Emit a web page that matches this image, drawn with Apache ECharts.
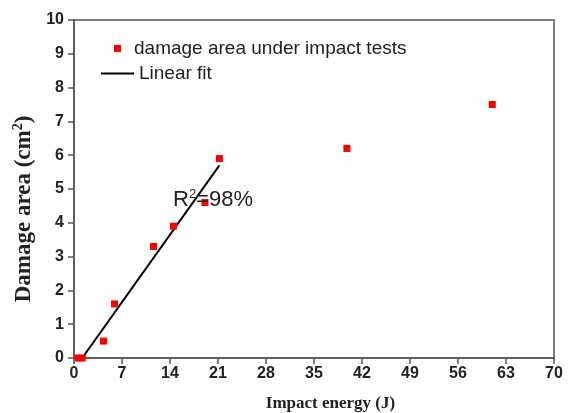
<!DOCTYPE html>
<html>
<head>
<meta charset="utf-8">
<script src="https://cdn.jsdelivr.net/npm/echarts@6/dist/echarts.min.js"></script>
<style>html,body{margin:0;padding:0;background:#fff}#c{width:568px;height:413px}</style>
</head>
<body>
<div id="c"></div>
<script>
// Measured damage area under impact tests: [impact energy (J), damage area (cm^2)]
var impactEnergy = [0.6, 1.2, 4.3, 5.9, 11.6, 14.5, 19.1, 21.2, 39.8, 61.0];
var damageArea   = [0.0, 0.0, 0.5, 1.6, 3.3, 3.9, 4.6, 5.9, 6.2, 7.5];
// Linear fit line end points
var fitEnergy = [1.2, 21.2];
var fitArea   = [0.0, 5.7];
var xTicks = {min: 0, max: 70, interval: 7};
var yTicks = {min: 0, max: 10, interval: 1};
var seriesNames = ['damage area under impact tests', 'Linear fit'];
var annotation = 'R{sup|2}=98%';

var scatterData = impactEnergy.map(function (x, i) { return [x, damageArea[i]]; });
var fitData = fitEnergy.map(function (x, i) { return [x, fitArea[i]]; });

var sans = 'Liberation Sans, Arial, sans-serif';
var serif = 'Liberation Serif, Times New Roman, serif';
var axisCol = '#555';

var chart = echarts.init(document.getElementById('c'), null, {renderer: 'canvas'});
chart.setOption({
  animation: false,
  backgroundColor: '#fff',
  grid: {left: 74, right: 14, top: 20, bottom: 55, show: true, borderColor: axisCol, borderWidth: 1.5,
         backgroundColor: 'transparent', containLabel: false, outerBoundsMode: 'none'},
  title: {
    text: annotation, left: 168, top: 183,
    textStyle: {fontFamily: sans, fontSize: 22, fontWeight: 'normal', color: '#222',
      rich: {sup: {fontFamily: sans, fontSize: 13, color: '#222', verticalAlign: 'top', padding: [0, 0, 10, 0]}}}
  },
  legend: [
    {data: [{name: seriesNames[0], icon: 'rect'}], left: 109, top: 34, itemWidth: 7, itemHeight: 7,
     textStyle: {fontFamily: sans, fontSize: 19, color: '#222', padding: [0, 0, 0, 8]}, selectedMode: false},
    {data: [{name: seriesNames[1], icon: 'rect'}], left: 96, top: 59, itemWidth: 33, itemHeight: 2,
     itemStyle: {color: '#000'},
     textStyle: {fontFamily: sans, fontSize: 19, color: '#222'}, selectedMode: false}
  ],
  xAxis: {
    type: 'value', min: xTicks.min, max: xTicks.max, interval: xTicks.interval,
    name: 'Impact energy (J)', nameLocation: 'middle', nameGap: 37,
    nameTextStyle: {fontFamily: serif, fontSize: 17, fontWeight: 'bold', color: '#222', padding: [0, 0, 0, 33]},
    axisLine: {show: true, onZero: false, lineStyle: {color: axisCol, width: 1.5}},
    axisTick: {show: true, inside: false, length: 6, lineStyle: {color: axisCol, width: 1.5}},
    axisLabel: {fontFamily: sans, fontSize: 16, fontWeight: 'bold', color: '#222', margin: 8},
    splitLine: {show: false}
  },
  yAxis: {
    type: 'value', min: yTicks.min, max: yTicks.max, interval: yTicks.interval,
    name: 'Damage area (cm{sup|2})', nameLocation: 'middle', nameGap: 35, nameRotate: 90,
    nameTextStyle: {fontFamily: serif, fontSize: 23, fontWeight: 'bold', color: '#222', padding: [0, 40, 0, 0],
      rich: {sup: {fontFamily: serif, fontSize: 14, fontWeight: 'bold', color: '#222', verticalAlign: 'top', padding: [0, 0, 10, 0]}}},
    axisLine: {show: true, onZero: false, lineStyle: {color: axisCol, width: 1.5}},
    axisTick: {show: true, inside: false, length: 6, lineStyle: {color: axisCol, width: 1.5}},
    axisLabel: {fontFamily: sans, fontSize: 16, fontWeight: 'bold', color: '#222', margin: 10},
    splitLine: {show: false}
  },
  series: [
    {name: seriesNames[0], type: 'scatter', symbol: 'rect', symbolSize: 7, data: scatterData,
     itemStyle: {color: '#ff0000', opacity: 1}, z: 3},
    {name: seriesNames[1], type: 'line', data: fitData, symbol: 'none',
     lineStyle: {color: '#000', width: 2}, itemStyle: {color: '#000'}, z: 2}
  ]
});
</script>
</body>
</html>
